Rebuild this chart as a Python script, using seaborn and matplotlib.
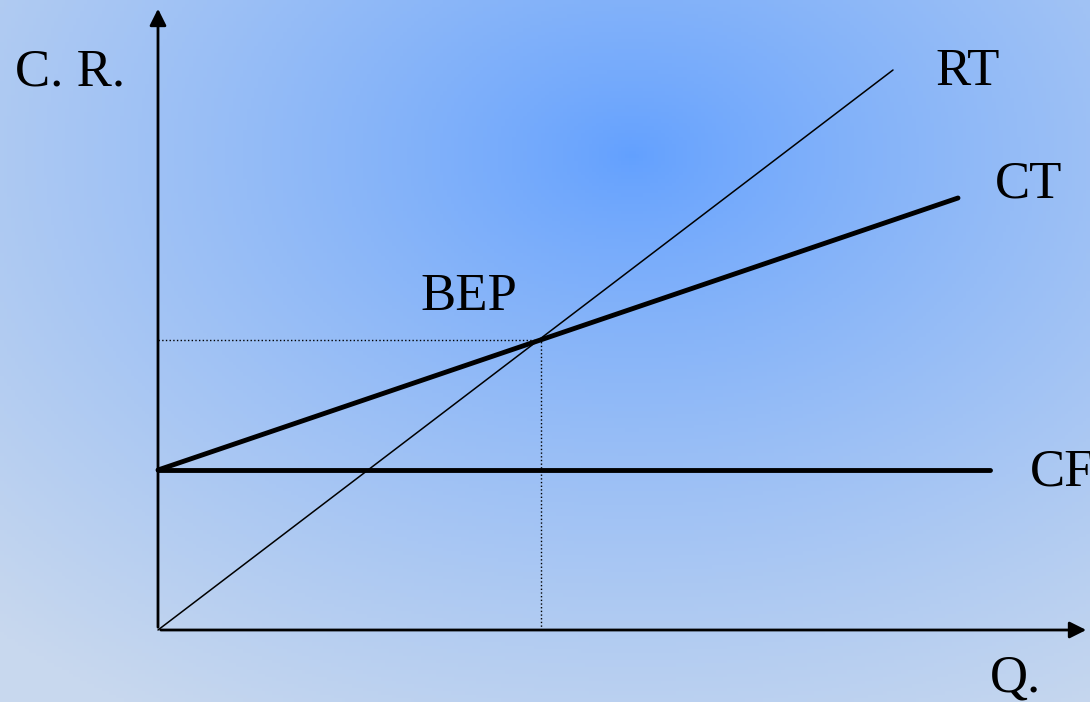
import numpy as np
import pandas as pd
import seaborn as sns
import matplotlib.pyplot as plt

# Break-even chart: data units roughly follow the picture pixels
q_rt = [0, 735]
v_rt = [0, 560]
q_ct = [0, 800]
v_ct = [160, 432]
q_cf = [0, 832]
v_cf = [160, 160]
bep_q = 383
bep_v = 290

sns.set_style('white')
plt.rcParams['font.family'] = ['Liberation Serif', 'DejaVu Serif']

fig = plt.figure(figsize=(10.9, 7.02), dpi=100)
ax = fig.add_axes([0, 0, 1, 1])
ax.set_xlim(-158, 932)
ax.set_ylim(-72, 630)
ax.axis('off')

# radial blue gradient background
gx, gy = np.meshgrid(np.linspace(0, 1, 300), np.linspace(0, 1, 200))
d = np.sqrt(((gx - 0.58) / 1.0) ** 2 + ((gy - 0.22) / 1.1) ** 2)
d = np.clip(d / 0.85, 0, 1) ** 0.8
c0 = np.array([98, 160, 255]) / 255
c1 = np.array([200, 216, 238]) / 255
img = c0[None, None, :] * (1 - d[..., None]) + c1[None, None, :] * d[..., None]
ax.imshow(img, extent=[-158, 932, -72, 630], origin='upper', aspect='auto', zorder=0)

df = pd.concat([
    pd.DataFrame({'q': q_rt, 'v': v_rt, 'line': 'RT'}),
    pd.DataFrame({'q': q_ct, 'v': v_ct, 'line': 'CT'}),
    pd.DataFrame({'q': q_cf, 'v': v_cf, 'line': 'CF'}),
])
sns.lineplot(data=df[df.line == 'RT'], x='q', y='v', color='black', lw=1.1, ax=ax, zorder=3)
sns.lineplot(data=df[df.line == 'CT'], x='q', y='v', color='black', lw=3.5, ax=ax, zorder=3)
sns.lineplot(data=df[df.line == 'CF'], x='q', y='v', color='black', lw=3.5, ax=ax, zorder=3)

# guide lines to the break-even point
ax.plot([0, bep_q], [bep_v, bep_v], color='black', lw=1, ls=':', zorder=2)
ax.plot([bep_q, bep_q], [0, bep_v], color='black', lw=1, ls=':', zorder=2)

# axes with arrow heads
ax.annotate('', xy=(0, 624), xytext=(0, 0), annotation_clip=False,
            arrowprops=dict(arrowstyle='-|>', color='black', lw=2, mutation_scale=25), zorder=4)
ax.annotate('', xy=(931, 0), xytext=(0, 0), annotation_clip=False,
            arrowprops=dict(arrowstyle='-|>', color='black', lw=2, mutation_scale=25), zorder=4)

fs = 38
ax.text(-143, 545, 'C. R.', fontsize=fs, color='black')
ax.text(777, 545, 'RT', fontsize=fs, color='black')
ax.text(837, 433, 'CT', fontsize=fs, color='black')
ax.text(262, 320, 'BEP', fontsize=fs, color='black')
ax.text(872, 145, 'CF', fontsize=fs, color='black')
ax.text(832, -62, 'Q.', fontsize=fs, color='black')

fig.savefig('out.png', dpi=100)
